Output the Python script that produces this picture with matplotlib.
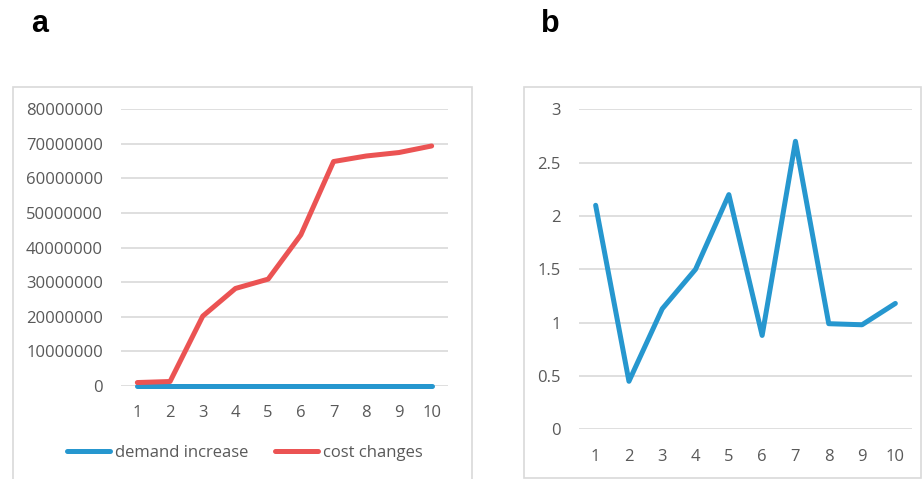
import matplotlib.pyplot as plt
from matplotlib.patches import Rectangle

plt.rcParams['font.family'] = ['Open Sans', 'DejaVu Sans']

periods = [1, 2, 3, 4, 5, 6, 7, 8, 9, 10]
# panel a
demand_increase = [2.1, 0.45, 1.13, 1.5, 2.2, 0.88, 2.7, 0.99, 0.98, 1.18]
cost_changes = [1000000, 1300000, 20200000, 28200000, 30900000,
                43700000, 64900000, 66500000, 67500000, 69400000]
# panel b
ratio = [2.1, 0.45, 1.13, 1.5, 2.2, 0.88, 2.7, 0.99, 0.98, 1.18]

BLUE = '#2697cf'
RED = '#eb5353'
GRID = '#d9d9d9'
TXT = '#595959'

fig = plt.figure(figsize=(9.23, 4.79), dpi=100)
W, H = 923, 479

# panel frames
fig.add_artist(Rectangle((13 / W, -0.01), 459 / W, 1 - 87 / H + 0.01,
                         transform=fig.transFigure, fill=False, ec=GRID, lw=1.2))
fig.add_artist(Rectangle((524 / W, 1 / H), 397 / W, 1 - 88 / H,
                         transform=fig.transFigure, fill=False, ec=GRID, lw=1.2))

fig.text(40 / W, 1 - 24 / H, 'a', fontsize=22, fontweight='bold',
         family=['Liberation Sans', 'DejaVu Sans'], ha='center', va='center')
fig.text(550 / W, 1 - 24 / H, 'b', fontsize=22, fontweight='bold',
         family=['Liberation Sans', 'DejaVu Sans'], ha='center', va='center')


def style(ax, ylim, yticks, ylabels):
    ax.set_xlim(0.5, 10.5)
    ax.set_ylim(*ylim)
    ax.set_yticks(yticks)
    ax.set_yticklabels(ylabels)
    ax.set_xticks(periods)
    ax.grid(axis='y', color=GRID, lw=1.2)
    ax.set_axisbelow(True)
    for s in ax.spines.values():
        s.set_visible(False)
    ax.tick_params(axis='both', length=0, labelsize=12, colors=TXT)
    ax.tick_params(axis='y', pad=13)
    ax.tick_params(axis='x', pad=14)


ax1 = fig.add_axes([121 / W, 1 - 386 / H, 327 / W, (386 - 109.3) / H])
ax1.plot(periods, demand_increase, color=BLUE, lw=3.6, label='demand increase',
         solid_capstyle='round', clip_on=False)
ax1.plot(periods, cost_changes, color=RED, lw=3.6, label='cost changes',
         solid_capstyle='round', clip_on=False)
yt = list(range(0, 80000001, 10000000))
style(ax1, (0, 80000000), yt, [str(v) for v in yt])
ax1.legend(loc='center', bbox_to_anchor=(245 / W, 1 - 453 / H),
           bbox_transform=fig.transFigure, ncol=2, frameon=False,
           fontsize=12, handlelength=2.6, handletextpad=0.3,
           columnspacing=1.6, labelcolor=TXT)

ax2 = fig.add_axes([579 / W, 1 - 429.3 / H, 333 / W, 320 / H])
ax2.plot(periods, ratio, color=BLUE, lw=3.6, solid_capstyle='round',
         clip_on=False)
yt2 = [0, 0.5, 1, 1.5, 2, 2.5, 3]
style(ax2, (0, 3), yt2, ['0', '0.5', '1', '1.5', '2', '2.5', '3'])

fig.savefig('out.png', dpi=100)
